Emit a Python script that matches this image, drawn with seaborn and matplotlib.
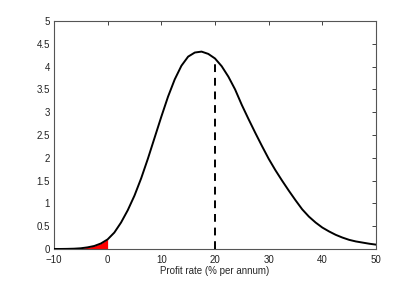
import numpy as np
import pandas as pd
import matplotlib
matplotlib.use("Agg")
import matplotlib.pyplot as plt
import seaborn as sns

# Data (profit rate in % per annum, density)
profit_rate = [-10, -8.75, -7.5, -6.25, -5, -3.75, -2.5, -1.25, 0, 1.25, 2.5, 3.75,
               5, 6.25, 7.5, 8.75, 10, 11.25, 12.5, 13.75, 15, 16.25, 17.5, 18.75,
               20, 21.25, 22.5, 23.75, 25, 26.25, 27.5, 28.75, 30, 31.25, 32.5, 33.75,
               35, 36.25, 37.5, 38.75, 40, 41.25, 42.5, 43.75, 45, 46.25, 47.5, 48.75, 50]
density = [0.000, 0.000, 0.002, 0.006, 0.015, 0.035, 0.065, 0.12, 0.21, 0.36, 0.58, 0.85,
           1.17, 1.55, 1.98, 2.44, 2.90, 3.34, 3.72, 4.02, 4.22, 4.31, 4.33, 4.28,
           4.18, 4.01, 3.78, 3.50, 3.16, 2.85, 2.55, 2.26, 1.98, 1.73, 1.50, 1.28,
           1.07, 0.87, 0.71, 0.58, 0.47, 0.385, 0.31, 0.25, 0.20, 0.165, 0.14, 0.115, 0.095]
loss_threshold = 0
marked_rate = 20
x_ticks = [-10, 0, 10, 20, 30, 40, 50]
y_ticks = [0, 0.5, 1, 1.5, 2, 2.5, 3, 3.5, 4, 4.5, 5]
x_label = "Profit rate (% per annum)"

df = pd.DataFrame({"rate": profit_rate, "density": density})

sns.set_style("white")
plt.rcParams['font.family'] = ['Liberation Sans', 'DejaVu Sans']

fig = plt.figure(figsize=(4.15, 2.81), dpi=100)
ax = fig.add_axes([0.130, 0.114, 0.776, 0.811])

loss = df[df["rate"] <= loss_threshold]
ax.fill_between(loss["rate"], 0, loss["density"], color="#ff0000", linewidth=0, zorder=2)

sns.lineplot(data=df, x="rate", y="density", color="black", linewidth=1.4, ax=ax, zorder=3)

h = df.loc[df["rate"] == marked_rate, "density"].iloc[0]
ax.vlines(marked_rate, 0, h, colors="black", linestyles=(0, (4, 3)), linewidth=1.4, zorder=3)

ax.set_xlim(x_ticks[0], x_ticks[-1])
ax.set_ylim(y_ticks[0], y_ticks[-1])
ax.set_xticks(x_ticks)
ax.set_xticklabels(["\u221210" if t == -10 else str(t) for t in x_ticks])
ax.set_yticks(y_ticks)
ax.set_yticklabels([("%g" % t) for t in y_ticks])
ax.set_xlabel(x_label, fontsize=7, labelpad=1)
ax.set_ylabel("")
ax.tick_params(axis="both", direction="in", top=True, right=True, length=3, width=0.6,
               labelsize=7, colors="#222222")
ax.tick_params(axis="x", pad=4)
ax.tick_params(axis="y", pad=3)
for s in ax.spines.values():
    s.set_visible(True)
    s.set_color("#555555")
    s.set_linewidth(0.8)

fig.savefig("out.png", dpi=100)
